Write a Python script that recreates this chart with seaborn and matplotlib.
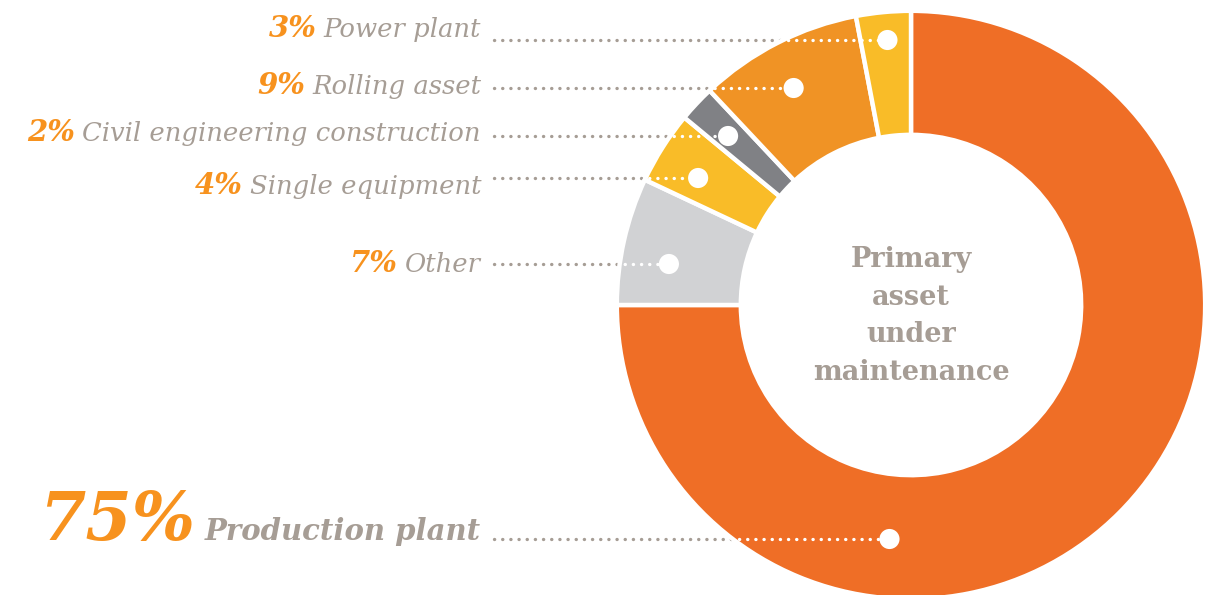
import numpy as np
import pandas as pd
import matplotlib
matplotlib.use("Agg")
import matplotlib.pyplot as plt
import seaborn as sns
from matplotlib.patches import Circle

# Data (clockwise from 12 o'clock)
categories = ["Production plant", "Other", "Single equipment",
              "Civil engineering construction", "Rolling asset", "Power plant"]
shares = [75, 7, 4, 2, 9, 3]
slice_colors = ["#EF6E26", "#D1D2D4", "#F9BC28", "#808185", "#F09325", "#F9BC28"]

sns.set_theme(style="white")
plt.rcParams["font.family"] = ["DejaVu Serif"]

ORANGE = "#F7921E"
GREY_TXT = "#A69D95"

# geometry in pixels of the reference
W, H = 1222, 595
CX, CY, R = 911, 305, 293
INNER = 169


def X(px):
    return (px - CX) / R


def Y(py):
    return (CY - py) / R


fig = plt.figure(figsize=(W / 100, H / 100), dpi=100)
ax = fig.add_axes([0, 0, 1, 1])

# leader layout: y of the leader (px), radius of the dot, baseline of label text (px)
leader_y = {"Production plant": 539, "Other": 264, "Single equipment": 178,
            "Civil engineering construction": 136, "Rolling asset": 88, "Power plant": 40}
dot_r = {"Production plant": 0.802, "Other": 0.838, "Single equipment": 0.846,
         "Civil engineering construction": 0.850, "Rolling asset": 0.842, "Power plant": 0.908}
text_base = {"Production plant": 540, "Other": 272, "Single equipment": 194,
             "Civil engineering construction": 141, "Rolling asset": 94, "Power plant": 37}

rows = []
for name in categories:
    yy = Y(leader_y[name])
    xx = -np.sqrt(dot_r[name] ** 2 - yy ** 2)
    rows.append({"name": name, "x": xx, "y": yy})
dots = pd.DataFrame(rows)

line_start = X(494)

ax.pie(shares, colors=slice_colors, startangle=90, counterclock=False, radius=1.004,
       wedgeprops=dict(width=(R - INNER) / R, edgecolor="white", linewidth=3.2))

ring = Circle((0, 0), 1.004, transform=ax.transData)

# grey leader below the donut, white leader on top of it (clipped to the ring)
for _, r in dots.iterrows():
    ax.plot([line_start, r["x"]], [r["y"], r["y"]], color=GREY_TXT, lw=2.4,
            linestyle=(0, (0.05, 2.4)), dash_capstyle="round", zorder=0)
    wl, = ax.plot([line_start, r["x"]], [r["y"], r["y"]], color="white", lw=2.4,
                  linestyle=(0, (0.05, 2.4)), dash_capstyle="round", zorder=3)
    wl.set_clip_path(ring)
sns.scatterplot(data=dots, x="x", y="y", color="white", s=210, edgecolor="none",
                zorder=4, ax=ax, legend=False)

ax.set_xlim(X(0), X(W))
ax.set_ylim(Y(H), Y(0))
ax.set_aspect("auto")
ax.axis("off")

# labels
fig.canvas.draw()
renderer = fig.canvas.get_renderer()
inv = ax.transData.inverted()
for name, v in zip(categories, shares):
    big = name == "Production plant"
    if big:
        t = ax.text(X(481), Y(text_base[name]), name, ha="right", va="baseline",
                    fontsize=21, fontweight="bold", style="italic", color=GREY_TXT)
    else:
        t = ax.text(X(481), Y(text_base[name]), name, ha="right", va="baseline",
                    fontsize=18.6, style="italic", color=GREY_TXT)
    bb = t.get_window_extent(renderer)
    left = inv.transform((bb.x0, bb.y0))[0]
    gap = 10 / R if big else 7 / R
    ax.text(left - gap, Y(text_base[name]), f"{v}%", ha="right", va="baseline",
            fontsize=48 if big else 21, fontweight="bold", style="italic", color=ORANGE)

ax.text(0, Y(316), "Primary\nasset\nunder\nmaintenance", ha="center", va="center",
        fontsize=19.5, fontweight="bold", color=GREY_TXT, linespacing=1.5)

fig.savefig("out.png", dpi=100, facecolor="white")
